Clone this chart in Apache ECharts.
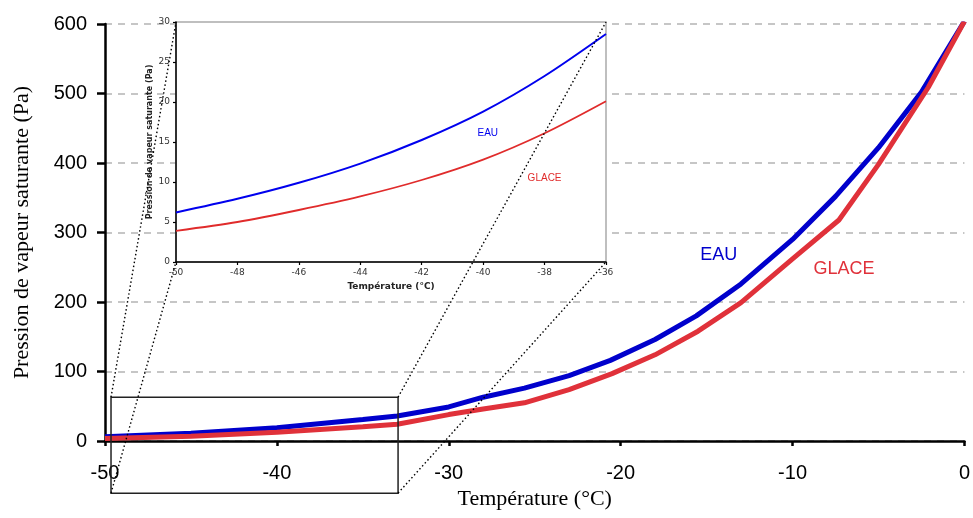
<!DOCTYPE html>
<html>
<head>
<meta charset="utf-8">
<script src="https://cdn.jsdelivr.net/npm/echarts@6/dist/echarts.min.js"></script>
<style>
html, body { margin: 0; padding: 0; background: #fff; }
#main { width: 973px; height: 518px; }
</style>
</head>
<body>
<div id="main"></div>
<script>
// courbes principales (-50 .. 0 °C)
var eauTemp = [-50, -45, -40, -35, -33, -30, -28, -25.6, -23, -20.6, -18, -15.6, -13, -10, -7.5, -5, -2.5, 0];
var eauPa   = [6, 11, 19, 31, 36, 49, 63, 76, 94, 116, 146, 180, 226, 290, 352, 422, 502, 604];
var glaceTemp = [-50, -45, -40, -35, -33, -30, -28, -25.6, -23, -20.5, -18, -15.5, -13, -10, -7.3, -5, -2.1, 0];
var glacePa   = [3.5, 7, 12.5, 20.5, 24, 38, 46, 55, 74, 97, 124, 158, 199, 262, 318, 398, 509, 604];

// zoom (-50 .. -36 °C)
var insetTemp  = [-50, -48, -46, -44, -42, -40, -38, -36];
var insetEau   = [6.2, 7.9, 9.9, 12.3, 15.25, 18.8, 23.25, 28.5];
var insetGlace = [3.9, 5.0, 6.5, 8.2, 10.25, 12.8, 16.1, 20.1];

// cadre du zoom sur le graphe principal (coordonnées de données)
var boxX = [-49.65, -32.95];
var boxY = [-75, 63];

function pairs(xs, ys) {
  return xs.map(function (x, i) { return [x, ys[i]]; });
}

var myChart = echarts.init(document.getElementById('main'));

var option = {
  animation: false,
  grid: [
    { left: 105, right: 7, top: 24, bottom: 77 },
    { left: 176, top: 22, width: 430, height: 240 }
  ],
  xAxis: [{
    type: 'value', gridIndex: 0, min: -50, max: 0, interval: 10,
    name: 'Température (°C)', nameLocation: 'middle', nameGap: 47,
    nameTextStyle: { fontFamily: 'Liberation Serif', fontSize: 22, color: '#000' },
    axisLine: { onZero: false, lineStyle: { color: '#000', width: 2.5 } },
    axisTick: { inside: false, length: 5, lineStyle: { color: '#000', width: 2.5 } },
    axisLabel: { fontFamily: 'Liberation Sans', fontSize: 20, color: '#000', margin: 22 },
    splitLine: { show: false }
  }, {
    type: 'value', gridIndex: 1, min: -50, max: -36, interval: 2, z: 3,
    name: 'Température (°C)', nameLocation: 'middle', nameGap: 20,
    nameTextStyle: { fontFamily: 'DejaVu Sans', fontSize: 9, fontWeight: 'bold', color: '#222' },
    axisLine: { onZero: false, lineStyle: { color: '#000', width: 1.5 } },
    axisTick: { length: 3, lineStyle: { color: '#000', width: 1.2 } },
    axisLabel: { fontFamily: 'DejaVu Sans', fontSize: 9, color: '#333', margin: 6 },
    splitLine: { show: false }
  }],
  yAxis: [{
    type: 'value', gridIndex: 0, min: 0, max: 600, interval: 100,
    name: 'Pression de vapeur saturante (Pa)', nameLocation: 'middle', nameGap: 72,
    nameTextStyle: { fontFamily: 'Liberation Serif', fontSize: 22, color: '#000' },
    axisLine: { show: true, onZero: false, lineStyle: { color: '#000', width: 2.5 } },
    axisTick: { show: true, length: 8, lineStyle: { color: '#000', width: 2.5 } },
    axisLabel: { fontFamily: 'Liberation Sans', fontSize: 20, color: '#000', margin: 18 },
    splitLine: { show: true, lineStyle: { color: '#b4b4b4', width: 1.5, type: [7, 6] } }
  }, {
    type: 'value', gridIndex: 1, min: 0, max: 30, interval: 5, z: 3,
    name: 'Pression de vapeur saturante (Pa)', nameLocation: 'middle', nameGap: 22,
    nameTextStyle: { fontFamily: 'DejaVu Sans', fontSize: 8, fontWeight: 'bold', color: '#222' },
    axisLine: { show: true, onZero: false, lineStyle: { color: '#000', width: 1.5 } },
    axisTick: { show: true, length: 3, lineStyle: { color: '#000', width: 1.2 } },
    axisLabel: { fontFamily: 'DejaVu Sans', fontSize: 9, color: '#333', margin: 6 },
    splitLine: { show: false }
  }],
  series: [{
    name: 'EAU', type: 'line', xAxisIndex: 0, yAxisIndex: 0,
    data: pairs(eauTemp, eauPa), showSymbol: false,
    lineStyle: { color: '#0000cc', width: 5 }
  }, {
    name: 'GLACE', type: 'line', xAxisIndex: 0, yAxisIndex: 0,
    data: pairs(glaceTemp, glacePa), showSymbol: false,
    lineStyle: { color: '#e0313a', width: 5 }
  }, {
    name: 'EAU zoom', type: 'line', xAxisIndex: 1, yAxisIndex: 1, z: 4,
    data: pairs(insetTemp, insetEau), showSymbol: false, smooth: 0.3,
    lineStyle: { color: '#0000ee', width: 2 }
  }, {
    name: 'GLACE zoom', type: 'line', xAxisIndex: 1, yAxisIndex: 1, z: 4,
    data: pairs(insetTemp, insetGlace), showSymbol: false, smooth: 0.3,
    lineStyle: { color: '#e02b2b', width: 1.8 }
  }]
};
myChart.setOption(option);

// éléments de décoration : fond du zoom, cadre, pointillés, étiquettes
var p0 = function (x, y) { return myChart.convertToPixel({ gridIndex: 0 }, [x, y]); };
var p1 = function (x, y) { return myChart.convertToPixel({ gridIndex: 1 }, [x, y]); };

var iTL = p1(-50, 30), iBR = p1(-36, 0), iTR = p1(-36, 30), iBL = p1(-50, 0);
var bTL = p0(boxX[0], boxY[1]), bBR = p0(boxX[1], boxY[0]);
var bTR = [bBR[0], bTL[1]], bBL = [bTL[0], bBR[1]];

function dotted(a, b) {
  return {
    type: 'line', z: 100, silent: true,
    shape: { x1: a[0], y1: a[1], x2: b[0], y2: b[1] },
    style: { stroke: '#000', lineWidth: 1.4, lineDash: [1.5, 2.5] }
  };
}
function label(pt, txt, color, size) {
  return {
    type: 'text', z: 50, silent: true, x: pt[0], y: pt[1],
    style: { text: txt, fill: color, font: size + 'px "Liberation Sans", Arial', align: 'center', verticalAlign: 'middle' }
  };
}

myChart.setOption({
  graphic: [
    {
      type: 'rect', z: 1, silent: true,
      shape: { x: iTL[0], y: iTL[1], width: iBR[0] - iTL[0], height: iBR[1] - iTL[1] },
      style: { fill: '#fff', stroke: '#aaa', lineWidth: 1.5 }
    },
    {
      type: 'rect', z: 50, silent: true,
      shape: { x: bTL[0], y: bTL[1], width: bBR[0] - bTL[0], height: bBR[1] - bTL[1] },
      style: { fill: 'none', stroke: '#222', lineWidth: 1.5 }
    },
    dotted(bTL, iTL), dotted(bBL, iBL), dotted(bTR, iTR), dotted(bBR, iBR),
    label(p0(-14.3, 268), 'EAU', '#0000cc', 18),
    label(p0(-7, 247), 'GLACE', '#e0313a', 18),
    label(p1(-39.85, 16.1), 'EAU', '#0000ee', 10),
    label(p1(-38, 10.5), 'GLACE', '#e02b2b', 10)
  ]
});
</script>
</body>
</html>
